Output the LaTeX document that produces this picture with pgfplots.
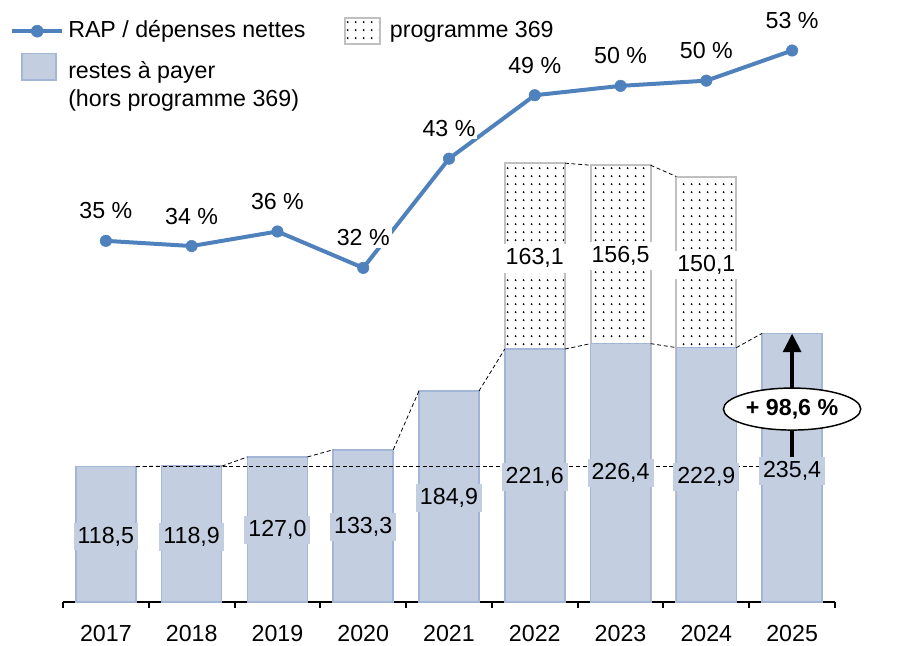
\documentclass[border=0pt]{standalone}
\usepackage{fontspec}
\setmainfont{Liberation Sans}
\usepackage{pgfplots}
\usepackage{pgfplotstable}
\pgfplotsset{compat=1.18}
\usetikzlibrary{patterns.meta, arrows.meta, shapes.geometric}
\pgfkeys{/pgf/number format/assume math mode=true}

\definecolor{rapblue}{HTML}{4F81BD}
\definecolor{barfill}{HTML}{C4CEE1}
\definecolor{bardraw}{HTML}{A3B6D5}
\definecolor{dotdraw}{HTML}{C0C0C0}

% regular grid of small dots for programme 369
\tikzdeclarepattern{
  name=sparsedots,
  type=uncolored,
  bottom left={(0pt,0pt)},
  top right={(6pt,6.2pt)},
  tile size={(6pt,6.2pt)},
  code={
    \fill (3pt,3.1pt) circle (0.85pt);
  }
}

\pgfplotsset{
  rapleg/.style={legend image code/.code={
      \draw[rapblue, line width=3pt] (0pt,0pt) -- (37.5pt,0pt);
      \fill[rapblue] (18.75pt,0pt) circle (4.5pt);}},
  dotleg/.style={legend image code/.code={
      \draw[dotdraw, line width=1.5pt, pattern=sparsedots, pattern color=black]
        (0pt,-9.75pt) rectangle (26pt,9.75pt);
      \path[draw=none, fill=none] (0pt,0pt) -- (30.5pt,0pt);}},
  barleg/.style={legend image code/.code={
      \draw[bardraw, line width=1.2pt, fill=barfill]
        (7.5pt,4.25pt) rectangle (33pt,24.25pt);}},
  dashlink/.style={black, line width=0.6pt, dash pattern=on 3pt off 2pt},
}

% restes a payer (hors programme 369), label height
\pgfplotstableread{
x rap lby
0 118.5 57.0
1 118.9 56.8
2 127.0 62.9
3 133.3 65.5
4 184.9 91.0
5 221.6 109.4
6 226.4 112.9
7 222.9 109.4
8 235.4 114.7
}\rap

% programme 369
\pgfplotstableread{
x rap p369 lby
5 221.6 163.1 301.2
6 226.4 156.5 303.2
7 222.9 150.1 295.4
}\prog

% RAP / depenses nettes (%)
\pgfplotstableread{
x ratio
0 34.7
1 34.2
2 35.6
3 32.1
4 42.6
5 48.7
6 49.6
7 50.1
8 53.0
}\ratio

\begin{document}%
\fontsize{17.4}{20.9}\selectfont%
\begin{tikzpicture}
\begin{axis}[
    at={(0pt,0pt)}, anchor=south west,
    scale only axis,
    width=579pt, height=444.6pt,
    xmin=-0.5, xmax=8.5,
    ymin=0, ymax=520,
    clip=false,
    axis x line*=bottom, axis y line=none,
    x axis line style={black, line width=1.5pt},
    xtick={0,...,8},
    xticklabels={2017,2018,2019,2020,2021,2022,2023,2024,2025},
    major tick length=0pt,
    minor xtick={-0.5,0.5,...,8.5},
    minor tick length=4.5pt,
    minor x tick style={black, line width=1.5pt},
    tick align=outside,
    xticklabel style={anchor=north, inner sep=0pt, yshift=-17.5pt},
]
    % programme 369 on top of the restes a payer
    \addplot[ybar, bar width=0.7, bar shift=0pt, draw=dotdraw, line width=1.5pt,
        pattern=sparsedots, pattern color=black]
        table[x=x, y expr=\thisrow{rap}+\thisrow{p369}] {\prog};
    \addplot[ybar, bar width=0.7, bar shift=0pt, fill=barfill, draw=bardraw, line width=1.2pt]
        table[x=x, y=rap] {\rap};

    % dashed links between bar tops
    \addplot[dashlink, unbounded coords=jump] coordinates {
        (0.35,118.5) (0.65,118.9) (1,nan)
        (1.35,118.9) (1.65,127.0) (2,nan)
        (2.35,127.0) (2.65,133.3) (3,nan)
        (3.35,133.3) (3.65,184.9) (4,nan)
        (4.35,184.9) (4.65,221.6) (5,nan)
        (5.35,221.6) (5.65,226.4) (6,nan)
        (6.35,226.4) (6.65,222.9) (7,nan)
        (7.35,222.9) (7.65,235.4)
    };
    \addplot[dashlink, unbounded coords=jump] coordinates {
        (5.35,384.7) (5.65,382.9) (6,nan)
        (6.35,382.9) (6.65,373.0)
    };
    \addplot[dashlink] coordinates {(0.35,118.5) (8,118.5)};

    % growth arrow 2017 -> 2025
    \addplot[black, line width=3.5pt, -{Triangle[width=13pt, length=14pt]}]
        coordinates {(8,118.5) (8,235.4)};
    \node[ellipse, draw=black, line width=1.1pt, fill=white, minimum width=103pt,
        minimum height=31.5pt, inner sep=0pt, font=\bfseries]
        at (axis cs:8,169) {+ 98,6~\%};

    % value labels
    \addplot[draw=none, mark=none, point meta=\thisrow{rap},
        nodes near coords={\pgfmathprintnumber[fixed, fixed zerofill, precision=1, use comma]{\pgfplotspointmeta}},
        nodes near coords style={anchor=center, fill=barfill, inner xsep=3pt, inner ysep=3pt, text=black}]
        table[x=x, y=lby] {\rap};
    \addplot[draw=none, mark=none, point meta=\thisrow{p369},
        nodes near coords={\pgfmathprintnumber[fixed, fixed zerofill, precision=1, use comma]{\pgfplotspointmeta}},
        nodes near coords style={anchor=center, fill=white, inner xsep=2.5pt, inner ysep=3.5pt, text=black}]
        table[x=x, y=lby] {\prog};
\end{axis}

\begin{axis}[
    at={(0pt,0pt)}, anchor=south west,
    scale only axis,
    width=579pt, height=444.6pt,
    xmin=-0.5, xmax=8.5,
    ymin=0, ymax=57,
    clip=false,
    axis x line=none, axis y line=none,
    xtick=\empty, ytick=\empty,
    legend columns=2,
    legend cell align=left,
    legend style={at={(0,1)}, anchor=north west, xshift=-39.75pt, yshift=-6pt,
        draw=none, fill=none, inner sep=0pt,
        row sep=5.5pt, column sep=3pt,
        /tikz/every even column/.append style={column sep=29pt},
        cells={align=left},
        nodes={inner sep=0pt}},
]
    \addlegendimage{rapleg}
    \addlegendentry{RAP / dépenses nettes}
    \addlegendimage{dotleg}
    \addlegendentry{programme 369}
    \addlegendimage{barleg}
    \addlegendentry{restes à payer\\(hors programme 369)}

    \addplot[forget plot, rapblue, line width=3pt, mark=*, mark size=4.3pt,
        mark options={solid, fill=rapblue, draw=rapblue, line width=0.4pt},
        nodes near coords={\pgfmathprintnumber[fixed, precision=0]{\pgfplotspointmeta}~\%},
        nodes near coords style={text=black, fill=white, anchor=center, yshift=22.5pt, inner sep=1.5pt}]
        table[x=x, y=ratio] {\ratio};
\end{axis}

\pgfresetboundingbox
\path (-47.25pt,-32.5pt) rectangle (625.5pt,451.3pt);
\end{tikzpicture}%
\end{document}
